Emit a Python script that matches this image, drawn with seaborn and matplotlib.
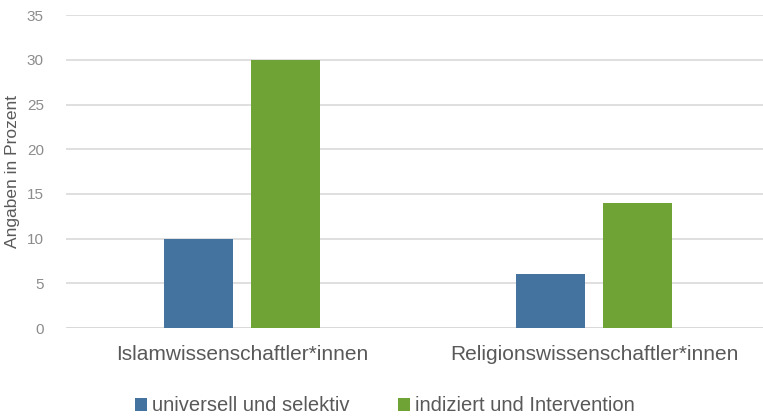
import pandas as pd
import seaborn as sns
import matplotlib.pyplot as plt

# Daten
kategorien = ["Islamwissenschaftler*innen", "Religionswissenschaftler*innen"]
serien = ["universell und selektiv", "indiziert und Intervention"]
werte_universell = [10, 6]
werte_indiziert = [30, 14]
farben = ["#44739F", "#6FA336"]

df = pd.DataFrame({
    "Gruppe": kategorien * 2,
    "Serie": [serien[0]] * 2 + [serien[1]] * 2,
    "Wert": werte_universell + werte_indiziert,
})

sns.set_theme(style="white")
plt.rcParams["font.family"] = ["Liberation Sans", "DejaVu Sans"]

fig = plt.figure(figsize=(7.63, 4.2), dpi=100)
ax = fig.add_axes([0.0865, 0.219, 0.9227, 0.745])

sns.barplot(data=df, x="Gruppe", y="Wert", hue="Serie", palette=farben,
            width=0.49, gap=0.2, ax=ax, saturation=1, edgecolor="none")

ax.set_ylim(0, 35)
ax.set_xlim(-0.5, 1.5)
ax.set_yticks(range(0, 36, 5))
ax.yaxis.grid(True, color="#d9d9d9", linewidth=1.2)
ax.set_axisbelow(True)
ax.axhline(0, color="#d9d9d9", linewidth=2, zorder=0.5)
for s in ax.spines.values():
    s.set_visible(False)
ax.tick_params(axis="y", length=0, pad=16, labelsize=11, labelcolor="#8c8c8c")
ax.tick_params(axis="x", length=0, pad=12, labelsize=15, labelcolor="#595959")
ax.set_xlabel("")
ax.set_ylabel("Angaben in Prozent", fontsize=12.5, color="#595959", labelpad=5)

ax.legend(loc="upper center", bbox_to_anchor=(0.453, -0.16), ncol=2, frameon=False,
          fontsize=14.5, labelcolor="#595959", handlelength=0.6, handleheight=0.6,
          handletextpad=0.25, columnspacing=2.4)

fig.savefig("out.png", dpi=100)
